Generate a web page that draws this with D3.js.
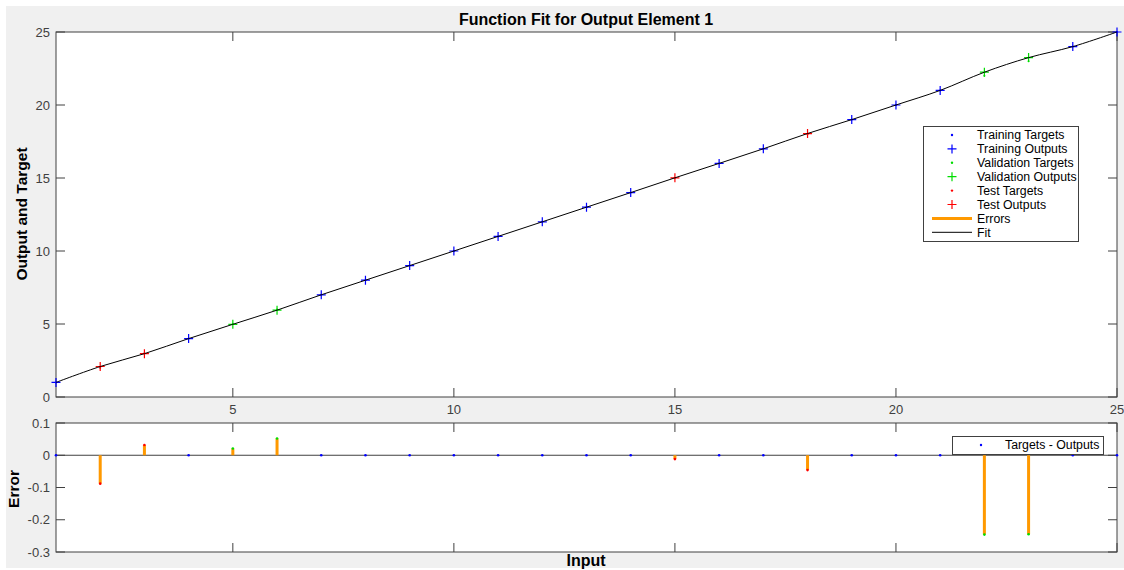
<!DOCTYPE html>
<html lang="en">
<head>
<meta charset="UTF-8">
<title>Function Fit for Output Element 1</title>
<script src="https://d3js.org/d3.v7.min.js"></script>
<style>
  body { margin: 0; background: #fff; }
  svg { display: block; font-family: "Liberation Sans", Arial, sans-serif; }
</style>
</head>
<body>
<svg id="chart" width="1124" height="570"></svg>
<script>
// samples (input = target for this fit)
const inputs  = [1, 2, 3, 4, 5, 6, 7, 8, 9, 10, 11, 12, 13, 14, 15, 16, 17, 18, 19, 20, 21, 22, 23, 24, 25];
const targets = [1, 2, 3, 4, 5, 6, 7, 8, 9, 10, 11, 12, 13, 14, 15, 16, 17, 18, 19, 20, 21, 22, 23, 24, 25];
// which subset each sample belongs to
const sets = ["train", "test", "test", "train", "val", "val", "train", "train", "train", "train",
              "train", "train", "train", "train", "test", "train", "train", "test", "train", "train",
              "train", "val", "val", "train", "train"];
// errors = targets - outputs
const errors = [0, -0.088, 0.032, 0, 0.021, 0.052, 0, 0, 0, 0,
                0, 0, 0, 0, -0.012, 0, 0, -0.046, 0, 0,
                0, -0.246, -0.245, 0, 0];

const xTicks = [5, 10, 15, 20, 25];
const yTicksTop = [0, 5, 10, 15, 20, 25];
const yTicksBottom = [0.1, 0, -0.1, -0.2, -0.3];

const legendTop = [
  {label: "Training Targets", kind: "dot", set: "train"},
  {label: "Training Outputs", kind: "plus", set: "train"},
  {label: "Validation Targets", kind: "dot", set: "val"},
  {label: "Validation Outputs", kind: "plus", set: "val"},
  {label: "Test Targets", kind: "dot", set: "test"},
  {label: "Test Outputs", kind: "plus", set: "test"},
  {label: "Errors", kind: "err"},
  {label: "Fit", kind: "fit"}
];

const colors = {train: "#0000ff", val: "#00dd00", test: "#ff0000"};
const errColor = "#ff9900";
const axisColor = "#404040";

const data = inputs.map((x, i) => ({
  x, target: targets[i], error: errors[i], set: sets[i], output: targets[i] - errors[i]
}));

const svg = d3.select("#chart");
svg.append("rect").attr("x", 6).attr("y", 6).attr("width", 1118).attr("height", 562).attr("fill", "#f0f0f0");

const left = 56, right = 1117;
const x = d3.scaleLinear().domain([1, 25]).range([left, right]);
const yTop = d3.scaleLinear().domain([0, 25]).range([397, 32]);
const yBot = d3.scaleLinear().domain([-0.3, 0.1]).range([552, 423]);

function boxAxes(g, y, yTicks, yFmt, showX) {
  const [y0, y1] = y.range();
  g.append("rect").attr("x", left).attr("y", y1).attr("width", right - left).attr("height", y0 - y1)
    .attr("fill", "#fff");
  const tl = 9;
  const ax = g.append("g").attr("stroke", axisColor).attr("stroke-width", 1);
  xTicks.forEach(t => {
    ax.append("line").attr("x1", x(t)).attr("x2", x(t)).attr("y1", y0).attr("y2", y0 - tl);
    ax.append("line").attr("x1", x(t)).attr("x2", x(t)).attr("y1", y1).attr("y2", y1 + tl);
  });
  yTicks.forEach(t => {
    ax.append("line").attr("x1", left).attr("x2", left + tl).attr("y1", y(t)).attr("y2", y(t));
    ax.append("line").attr("x1", right).attr("x2", right - tl).attr("y1", y(t)).attr("y2", y(t));
  });
  g.append("rect").attr("x", left).attr("y", y1).attr("width", right - left).attr("height", y0 - y1)
    .attr("fill", "none").attr("stroke", axisColor);
  g.selectAll("text.ytick").data(yTicks).join("text")
    .attr("x", left - 6).attr("y", d => y(d)).attr("dy", "0.35em")
    .attr("text-anchor", "end").attr("font-size", 13).attr("fill", axisColor)
    .text(yFmt);
  if (showX) {
    g.selectAll("text.xtick").data(xTicks).join("text")
      .attr("x", d => x(d)).attr("y", y0 + 17)
      .attr("text-anchor", "middle").attr("font-size", 13).attr("fill", axisColor)
      .text(d => d);
  }
}

function plus(g, cx, cy, color, s = 4.5) {
  g.append("path").attr("d", `M${cx - s},${cy}H${cx + s}M${cx},${cy - s}V${cy + s}`)
    .attr("stroke", color).attr("stroke-width", 1.2).attr("fill", "none");
}

// ---- top axes
const topAx = svg.append("g");
boxAxes(topAx, yTop, yTicksTop, d => d, true);

const plot = topAx.append("g");
plot.selectAll("circle").data(data).join("circle")
  .attr("cx", d => x(d.x)).attr("cy", d => yTop(d.target)).attr("r", 1)
  .attr("fill", d => colors[d.set]);
data.forEach(d => plus(plot, x(d.x), yTop(d.output), colors[d.set]));
plot.append("path").datum(data)
  .attr("d", d3.line().x(d => x(d.x)).y(d => yTop(d.output)).curve(d3.curveCatmullRom.alpha(0.5)))
  .attr("fill", "none").attr("stroke", "#000").attr("stroke-width", 1);

svg.append("text").attr("x", 586).attr("y", 25).attr("text-anchor", "middle")
  .attr("font-size", 16).attr("font-weight", "bold").text("Function Fit for Output Element 1");
svg.append("text").attr("transform", "translate(27,214) rotate(-90)").attr("text-anchor", "middle")
  .attr("font-size", 15.5).attr("font-weight", "bold").text("Output and Target");

// legend top
const lg = svg.append("g");
lg.append("rect").attr("x", 923.5).attr("y", 126.5).attr("width", 155).attr("height", 115)
  .attr("fill", "#fff").attr("stroke", axisColor);
legendTop.forEach((e, i) => {
  const ly = 135 + i * 13.9;
  if (e.kind === "dot") lg.append("circle").attr("cx", 952).attr("cy", ly).attr("r", 1.2).attr("fill", colors[e.set]);
  if (e.kind === "plus") plus(lg, 952, ly, colors[e.set]);
  if (e.kind === "err") lg.append("line").attr("x1", 932).attr("x2", 972).attr("y1", ly).attr("y2", ly)
    .attr("stroke", errColor).attr("stroke-width", 3);
  if (e.kind === "fit") lg.append("line").attr("x1", 932).attr("x2", 972).attr("y1", ly).attr("y2", ly)
    .attr("stroke", "#000").attr("stroke-width", 1);
  lg.append("text").attr("x", 977).attr("y", ly).attr("dy", "0.35em").attr("font-size", 12.3)
    .attr("fill", "#000").text(e.label);
});

// ---- bottom axes
const botAx = svg.append("g");
boxAxes(botAx, yBot, yTicksBottom, d => d === 0 ? "0" : d3.format(".1f")(d).replace("−", "-"), false);
botAx.append("line").attr("x1", left).attr("x2", right).attr("y1", yBot(0)).attr("y2", yBot(0))
  .attr("stroke", axisColor).attr("stroke-width", 1.2);
botAx.selectAll("line.err").data(data.filter(d => d.error !== 0)).join("line")
  .attr("x1", d => x(d.x)).attr("x2", d => x(d.x))
  .attr("y1", yBot(0)).attr("y2", d => yBot(d.error))
  .attr("stroke", errColor).attr("stroke-width", 3);
botAx.selectAll("circle").data(data).join("circle")
  .attr("cx", d => x(d.x)).attr("cy", d => yBot(d.error)).attr("r", 1.3)
  .attr("fill", d => d.error === 0 ? colors.train : colors[d.set]);

svg.append("text").attr("transform", "translate(19,489) rotate(-90)").attr("text-anchor", "middle")
  .attr("font-size", 15.5).attr("font-weight", "bold").text("Error");
svg.append("text").attr("x", 586).attr("y", 566).attr("text-anchor", "middle")
  .attr("font-size", 16).attr("font-weight", "bold").text("Input");

// legend bottom
const lb = svg.append("g");
lb.append("rect").attr("x", 952.5).attr("y", 436.5).attr("width", 151).attr("height", 18)
  .attr("fill", "#fff").attr("stroke", axisColor);
lb.append("circle").attr("cx", 981).attr("cy", 445).attr("r", 1.2).attr("fill", colors.train);
lb.append("text").attr("x", 1005).attr("y", 445).attr("dy", "0.35em").attr("font-size", 12.3)
  .text("Targets - Outputs");
</script>
</body>
</html>
